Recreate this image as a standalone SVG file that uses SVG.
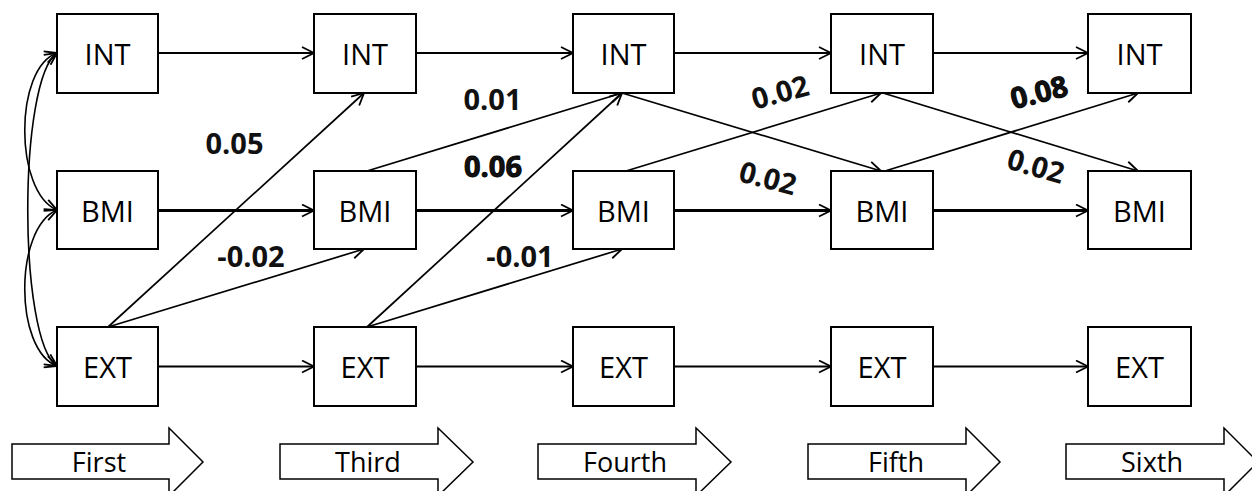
<svg xmlns="http://www.w3.org/2000/svg" width="1252" height="491" viewBox="0 0 1252 491">
  <style>
    .box { fill: #fff; stroke: #000; stroke-width: 2; }
    .lbl { font-family: "Open Sans", "Noto Sans", "Liberation Sans", sans-serif; font-size: 29px; fill: #000; text-anchor: middle; }
    .coef { font-family: "Open Sans", "Noto Sans", "Liberation Sans", sans-serif; font-size: 29px; font-weight: bold; fill: #111; text-anchor: middle; }
    .heavy { stroke: #000; stroke-width: 0.9; }
    .wave { font-family: "Open Sans", "Noto Sans", "Liberation Sans", sans-serif; font-size: 27px; fill: #000; text-anchor: middle; }
    .step { fill: #fff; stroke: #000; stroke-width: 1.5; }
    .link { fill: none; stroke: #000; stroke-width: 2; marker-end: url(#arr); }
    .thick { stroke-width: 3; }
    .diag { fill: none; stroke: #000; stroke-width: 1.7; marker-end: url(#arr); }
    .corr { fill: none; stroke: #000; stroke-width: 1.6; marker-start: url(#arrs); marker-end: url(#arr); }
  </style>
  <defs>
    <marker id="arr" viewBox="0 0 14 14" refX="13" refY="7" markerWidth="14" markerHeight="14" markerUnits="userSpaceOnUse" orient="auto">
      <path d="M1,1 L13,7 L1,13" fill="none" stroke="#000" stroke-width="1.8"/>
    </marker>
    <marker id="arrs" viewBox="0 0 14 14" refX="13" refY="7" markerWidth="14" markerHeight="14" markerUnits="userSpaceOnUse" orient="auto-start-reverse">
      <path d="M1,1 L13,7 L1,13" fill="none" stroke="#000" stroke-width="1.8"/>
    </marker>
  </defs>

  <!-- connectors -->
  <g id="connectors">
    <!-- correlations among first-wave measures -->
    <path class="corr" d="M57,53 C14,68 14,192 57,210"/>
    <path class="corr" d="M57,210 C14,228 14,350 57,366"/>
    <path class="corr" d="M57,53 C18,80 18,340 57,366"/>

    <!-- INT row -->
    <line class="link" x1="158" y1="53" x2="314" y2="53"/>
    <line class="link" x1="416" y1="53" x2="573" y2="53"/>
    <line class="link" x1="674" y1="53" x2="831" y2="53"/>
    <line class="link" x1="933" y1="53" x2="1088" y2="53"/>
    <!-- BMI row -->
    <line class="link thick" x1="158" y1="210.5" x2="314" y2="210.5"/>
    <line class="link thick" x1="416" y1="210.5" x2="573" y2="210.5"/>
    <line class="link thick" x1="674" y1="210.5" x2="831" y2="210.5"/>
    <line class="link thick" x1="933" y1="210.5" x2="1088" y2="210.5"/>
    <!-- EXT row -->
    <line class="link" x1="158" y1="366.5" x2="314" y2="366.5"/>
    <line class="link" x1="416" y1="366.5" x2="573" y2="366.5"/>
    <line class="link" x1="674" y1="366.5" x2="831" y2="366.5"/>
    <line class="link" x1="933" y1="366.5" x2="1088" y2="366.5"/>

    <!-- cross-lagged paths -->
    <line class="diag" x1="108" y1="327" x2="364" y2="93"/>
    <line class="diag" x1="108" y1="327" x2="364" y2="249"/>
    <line class="diag" x1="367" y1="171" x2="622" y2="93"/>
    <line class="diag" x1="367" y1="327" x2="622" y2="93"/>
    <line class="diag" x1="367" y1="327" x2="622" y2="249"/>
    <line class="diag" x1="622" y1="93" x2="881" y2="171"/>
    <line class="diag" x1="626" y1="171" x2="881" y2="93"/>
    <line class="diag" x1="883" y1="93" x2="1138" y2="171"/>
    <line class="diag" x1="885" y1="171" x2="1138" y2="93"/>
  </g>

  <!-- path coefficients -->
  <g id="coefficients">
    <text class="coef" x="234.5" y="154">0.05</text>
    <text class="coef" x="251" y="267">-0.02</text>
    <text class="coef" x="492.5" y="110">0.01</text>
    <text class="coef heavy" x="493" y="177">0.06</text>
    <text class="coef" x="520" y="267">-0.01</text>
    <text class="coef" transform="translate(780,92) rotate(-15)" x="0" y="10.5">0.02</text>
    <text class="coef" transform="translate(768,178) rotate(15)" x="0" y="10.5">0.02</text>
    <text class="coef heavy" transform="translate(1039,92) rotate(-14)" x="0" y="10.5">0.08</text>
    <text class="coef" transform="translate(1036,166) rotate(16)" x="0" y="10.5">0.02</text>
  </g>

  <!-- wave 1 -->
  <g id="int1"><rect class="box" x="57" y="14" width="101" height="79"/><text class="lbl" x="107.5" y="64.5">INT</text></g>
  <g id="bmi1"><rect class="box" x="57" y="171" width="101" height="78"/><text class="lbl" x="107.5" y="221.5">BMI</text></g>
  <g id="ext1"><rect class="box" x="57" y="327" width="101" height="79"/><text class="lbl" x="107.5" y="377.5">EXT</text></g>
  <!-- wave 3 -->
  <g id="int3"><rect class="box" x="314" y="14" width="102" height="79"/><text class="lbl" x="365" y="64.5">INT</text></g>
  <g id="bmi3"><rect class="box" x="314" y="171" width="102" height="78"/><text class="lbl" x="365" y="221.5">BMI</text></g>
  <g id="ext3"><rect class="box" x="314" y="327" width="102" height="79"/><text class="lbl" x="365" y="377.5">EXT</text></g>
  <!-- wave 4 -->
  <g id="int4"><rect class="box" x="573" y="14" width="101" height="79"/><text class="lbl" x="623.5" y="64.5">INT</text></g>
  <g id="bmi4"><rect class="box" x="573" y="171" width="101" height="78"/><text class="lbl" x="623.5" y="221.5">BMI</text></g>
  <g id="ext4"><rect class="box" x="573" y="327" width="101" height="79"/><text class="lbl" x="623.5" y="377.5">EXT</text></g>
  <!-- wave 5 -->
  <g id="int5"><rect class="box" x="831" y="14" width="102" height="79"/><text class="lbl" x="882" y="64.5">INT</text></g>
  <g id="bmi5"><rect class="box" x="831" y="171" width="102" height="78"/><text class="lbl" x="882" y="221.5">BMI</text></g>
  <g id="ext5"><rect class="box" x="831" y="327" width="102" height="79"/><text class="lbl" x="882" y="377.5">EXT</text></g>
  <!-- wave 6 -->
  <g id="int6"><rect class="box" x="1088" y="14" width="103" height="79"/><text class="lbl" x="1139.5" y="64.5">INT</text></g>
  <g id="bmi6"><rect class="box" x="1088" y="171" width="103" height="78"/><text class="lbl" x="1139.5" y="221.5">BMI</text></g>
  <g id="ext6"><rect class="box" x="1088" y="327" width="103" height="79"/><text class="lbl" x="1139.5" y="377.5">EXT</text></g>

  <!-- wave timeline -->
  <g id="wave-first"><path class="step" d="M12,444 H169 V428 L203,462 L169,496 V479 H12 Z"/><text class="wave" x="99" y="472">First</text></g>
  <g id="wave-third"><path class="step" d="M280,444 H438 V428 L473,462 L438,496 V479 H280 Z"/><text class="wave" x="368" y="472">Third</text></g>
  <g id="wave-fourth"><path class="step" d="M538,444 H696 V428 L731,462 L696,496 V479 H538 Z"/><text class="wave" x="625" y="472">Fourth</text></g>
  <g id="wave-fifth"><path class="step" d="M808,444 H966 V428 L1000,462 L966,496 V479 H808 Z"/><text class="wave" x="896" y="472">Fifth</text></g>
  <g id="wave-sixth"><path class="step" d="M1066,444 H1224 V428 L1258,462 L1224,496 V479 H1066 Z"/><text class="wave" x="1152" y="472">Sixth</text></g>
</svg>
